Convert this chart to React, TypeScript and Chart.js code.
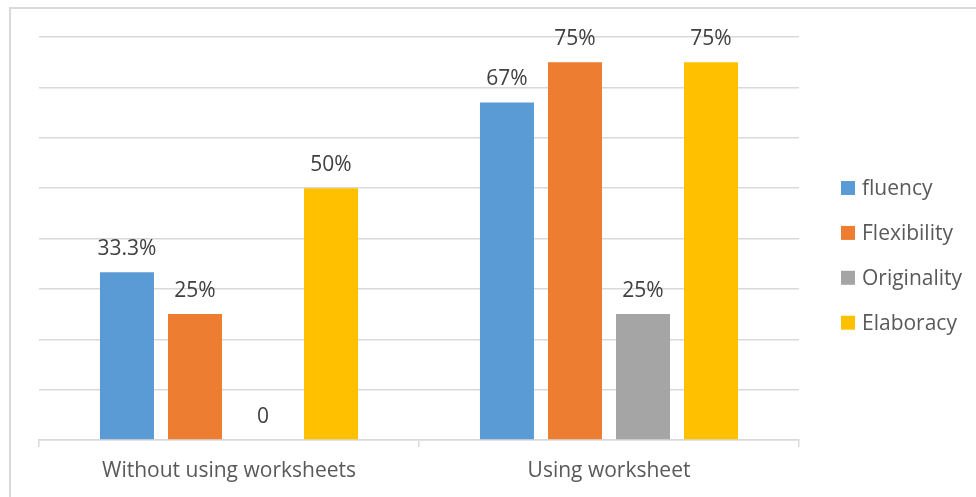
import React, { useEffect, useRef } from "react";
import { Chart, registerables } from "chart.js";

Chart.register(...registerables);

// Categories and series
const categories = ["Without using worksheets", "Using worksheet"];
const seriesNames = ["fluency", "Flexibility", "Originality", "Elaboracy"];
const seriesColors = ["#5B9BD5", "#ED7D31", "#A5A5A5", "#FFC000"];

const fluencyValues = [33.3, 67];
const flexibilityValues = [25, 75];
const originalityValues = [0, 25];
const elaboracyValues = [50, 75];

// Value labels shown above each bar
const fluencyLabels = ["33.3%", "67%"];
const flexibilityLabels = ["25%", "75%"];
const originalityLabels = ["0", "25%"];
const elaboracyLabels = ["50%", "75%"];

const yMin = 0;
const yMax = 80;
const yStep = 10;

const FONT = "'Open Sans', 'Noto Sans', sans-serif";
const FONT_SIZE = 21;

const valueLabelPlugin = {
  id: "valueLabels",
  afterDatasetsDraw(chart: any) {
    const ctx = chart.ctx;
    ctx.save();
    ctx.font = `${FONT_SIZE}px ${FONT}`;
    ctx.fillStyle = "#404040";
    ctx.textAlign = "center";
    ctx.textBaseline = "alphabetic";
    chart.data.datasets.forEach((ds: any, di: number) => {
      const meta = chart.getDatasetMeta(di);
      meta.data.forEach((bar: any, i: number) => {
        const text = ds.valueLabels[i];
        ctx.fillText(text, bar.x, bar.y - 17);
      });
    });
    ctx.restore();
  },
};

const sideLegendPlugin = {
  id: "sideLegend",
  afterDraw(chart: any) {
    const ctx = chart.ctx;
    const area = chart.chartArea;
    const boxX = area.right + 42;
    const firstY = area.top + 151;
    const gap = 44.9;
    ctx.save();
    ctx.font = `${FONT_SIZE}px ${FONT}`;
    ctx.textAlign = "left";
    ctx.textBaseline = "middle";
    chart.data.datasets.forEach((ds: any, i: number) => {
      const cy = firstY + i * gap;
      ctx.fillStyle = ds.backgroundColor;
      ctx.fillRect(boxX, cy - 7, 14, 14);
      ctx.fillStyle = "#595959";
      ctx.fillText(ds.label, boxX + 21, cy + 1);
    });
    ctx.restore();
  },
};

export default function App() {
  const canvasRef = useRef<HTMLCanvasElement | null>(null);

  useEffect(() => {
    const canvas = canvasRef.current;
    if (!canvas) return;
    const valueSets = [fluencyValues, flexibilityValues, originalityValues, elaboracyValues];
    const labelSets = [fluencyLabels, flexibilityLabels, originalityLabels, elaboracyLabels];
    const chart = new Chart(canvas, {
      type: "bar",
      data: {
        labels: categories,
        datasets: seriesNames.map((name, i) => ({
          label: name,
          data: valueSets[i],
          backgroundColor: seriesColors[i],
          borderWidth: 0,
          categoryPercentage: 0.716,
          barPercentage: 0.794,
          valueLabels: labelSets[i],
        })) as any,
      },
      options: {
        animation: false,
        responsive: false,
        maintainAspectRatio: false,
        layout: { padding: { left: 39, top: 37, right: 177, bottom: 0 } },
        plugins: {
          legend: { display: false },
          tooltip: { enabled: false },
        },
        scales: {
          x: {
            offset: true,
            grid: {
              offset: true,
              drawOnChartArea: false,
              drawTicks: true,
              tickLength: 7,
              color: "#d9d9d9",
              lineWidth: 1.5,
            },
            border: { display: true, color: "#d9d9d9", width: 1.5 },
            ticks: {
              color: "#595959",
              font: { family: FONT, size: FONT_SIZE },
              padding: 11,
              maxRotation: 0,
              autoSkip: false,
            },
            afterFit: (scale: any) => {
              scale.height = 57;
            },
          },
          y: {
            min: yMin,
            max: yMax,
            grid: {
              drawTicks: false,
              color: "#d9d9d9",
              lineWidth: 1.5,
            },
            border: { display: false },
            ticks: { display: false, stepSize: yStep },
          },
        },
      },
      plugins: [valueLabelPlugin, sideLegendPlugin],
    });
    return () => chart.destroy();
  }, []);

  return (
    <div
      style={{
        position: "fixed",
        left: 0,
        top: 0,
        width: 976,
        height: 497,
        overflow: "hidden",
        background: "#ffffff",
      }}
    >
      <div
        style={{
          position: "absolute",
          left: 9,
          top: 7,
          width: 1200,
          height: 800,
          borderLeft: "2px solid #d9d9d9",
          borderTop: "2px solid #d9d9d9",
        }}
      />
      <canvas
        ref={canvasRef}
        width={976}
        height={497}
        style={{ position: "absolute", left: 0, top: 0, width: 976, height: 497 }}
      />
    </div>
  );
}
